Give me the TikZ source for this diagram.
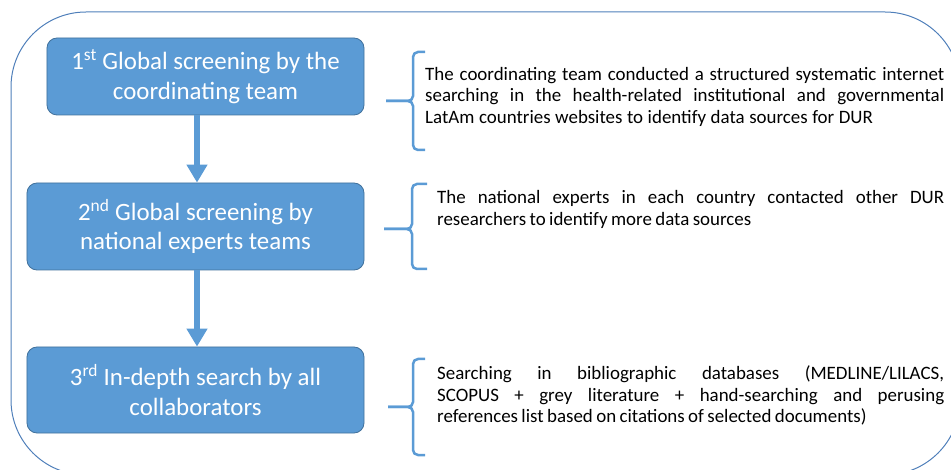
\documentclass[tikz,border=0pt]{standalone}
\usepackage{fontspec}
\setmainfont{Carlito}
\usetikzlibrary{arrows.meta}
\definecolor{boxblue}{HTML}{5B9BD5}
\definecolor{boxedge}{HTML}{41719C}
\definecolor{framecol}{HTML}{4F7FBA}
\begin{document}
\begin{tikzpicture}[x=1bp,y=-1bp,
  stepbox/.style={draw=boxedge, line width=0.8bp, fill=boxblue, rounded corners=10bp,
    text=white, font=\fontsize{25}{30}\selectfont, align=center, inner sep=0},
  desc/.style={font=\fontsize{19}{21.5}\selectfont, align=justify, inner sep=0, anchor=base west},
  flow/.style={draw=boxblue, line width=6bp, -{Triangle[width=20bp,length=18bp]}},
  bracestyle/.style={draw=boxblue, line width=2.5bp, rounded corners=5bp}]
\useasboundingbox (0,0) rectangle (951,470);
% outer frame
\draw[framecol, line width=1bp, rounded corners=75bp] (11,12) rectangle (960,475);
% step boxes
\node[stepbox, minimum width=317bp, minimum height=77bp] (b1) at (205.5,76.5)
  {1\textsuperscript{st} Global screening by the\\coordinating team};
\node[stepbox, minimum width=337bp, minimum height=87bp] (b2) at (195.5,226.5)
  {2\textsuperscript{nd} Global screening by\\national experts teams};
\node[stepbox, minimum width=337bp, minimum height=86bp] (b3) at (195.5,390)
  {3\textsuperscript{rd} In-depth search by all\\collaborators};
% arrows
\draw[flow] (b1.south -| 197,0) -- (b2.north -| 197,0);
\draw[flow] (b2.south -| 197,0) -- (b3.north -| 197,0);
% descriptions
\node[desc, text width=519bp] (d1) at (425,80.5) {\hyphenpenalty=10000
  \spaceskip=0.24em plus 1em minus 0.06em
  The coordinating team conducted a structured systematic internet\linebreak
  searching in the health-related institutional and governmental\linebreak
  LatAm countries websites to identify data sources for DUR};
\node[desc, text width=507bp] (d2) at (437,204) {\hyphenpenalty=10000
  \spaceskip=0.18em plus 1em minus 0.03em
  The national experts in each country contacted other DUR\linebreak
  researchers to identify more data sources};
\node[desc, text width=507bp] (d3) at (437,380) {\hyphenpenalty=10000
  \spaceskip=0.18em plus 1em minus 0.03em
  Searching in bibliographic databases (MEDLINE/LILACS,\linebreak
  SCOPUS + grey literature + hand-searching and perusing\linebreak
  references list based on citations of selected documents)};
% braces
\coordinate (t1) at (386,101);
\draw[bracestyle] (425,52) -| (413,101) -- (t1);
\draw[bracestyle] (425,150) -| (413,101) -- (t1);
\coordinate (t2) at (384,229);
\draw[bracestyle] (427,184) -| (412,229) -- (t2);
\draw[bracestyle] (427,269) -| (412,229) -- (t2);
\coordinate (t3) at (388,407);
\draw[bracestyle] (425,359) -| (413,407) -- (t3);
\draw[bracestyle] (425,455) -| (413,407) -- (t3);
\end{tikzpicture}
\end{document}
